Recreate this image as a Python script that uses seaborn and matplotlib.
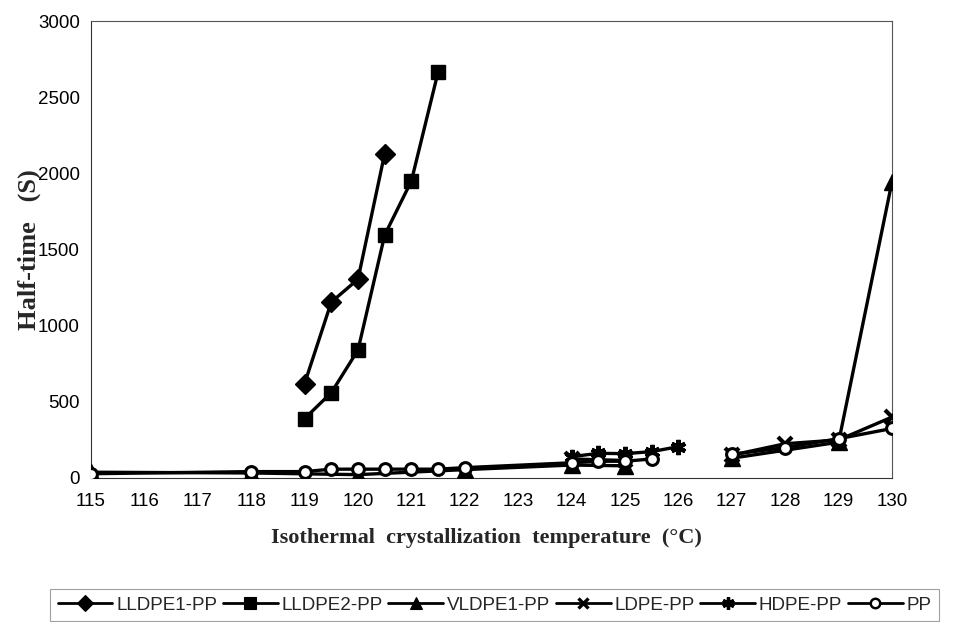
import numpy as np
import pandas as pd
import matplotlib
matplotlib.use("Agg")
import matplotlib.pyplot as plt
from matplotlib.lines import Line2D
import seaborn as sns

# ---- data ----
lldpe1_x = [119, 119.5, 120, 120.5]
lldpe1_y = [620, 1155, 1305, 2130]

lldpe2_x = [119, 119.5, 120, 120.5, 121, 121.5]
lldpe2_y = [390, 560, 840, 1595, 1950, 2665]

vldpe1_x = [115, 118, 120, 122, 124, 125, 126, 127, 129, 130]
vldpe1_y = [38, 33, 22, 55, 85, 80, np.nan, 130, 235, 1945]

ldpe_x = [124, 125, 126, 127, 128, 129, 130]
ldpe_y = [125, 115, np.nan, 150, 225, 250, 400]

hdpe_x = [124, 124.5, 125, 125.5, 126]
hdpe_y = [140, 162, 160, 173, 206]

pp_x = [115, 118, 119, 119.5, 120, 120.5, 121, 121.5, 122, 124, 124.5, 125, 125.5, 126, 127, 128, 129, 130]
pp_y = [28, 42, 42, 58, 58, 58, 58, 58, 68, 100, 110, 110, 125, np.nan, 155, 200, 258, 325]

series_names = ["LLDPE1-PP", "LLDPE2-PP", "VLDPE1-PP", "LDPE-PP", "HDPE-PP", "PP"]
xticks = list(range(115, 131))
yticks = [0, 500, 1000, 1500, 2000, 2500, 3000]

# ---- style ----
sns.set_theme(style="white")
plt.rcParams["font.family"] = ["Liberation Sans", "DejaVu Sans"]

W, H = 972, 622
fig = plt.figure(figsize=(W / 100, H / 100), dpi=100)
L, R, T, B = 91, 892, 21, 478
ax = fig.add_axes([L / W, 1 - B / H, (R - L) / W, (B - T) / H])

styles = {
    "LLDPE1-PP": dict(marker="D", ms=10, mfc="black", mec="black", mew=1),
    "LLDPE2-PP": dict(marker="s", ms=10, mfc="black", mec="black", mew=1),
    "VLDPE1-PP": dict(marker="^", ms=11, mfc="black", mec="black", mew=1),
    "LDPE-PP": dict(marker="x", ms=9.5, mfc="black", mec="black", mew=3),
    "HDPE-PP": dict(marker=(6, 2, 0), ms=11, mfc="black", mec="black", mew=3),
    "PP": dict(marker="o", ms=8.5, mfc="white", mec="black", mew=2.2),
}
data = {
    "LLDPE1-PP": (lldpe1_x, lldpe1_y),
    "LLDPE2-PP": (lldpe2_x, lldpe2_y),
    "VLDPE1-PP": (vldpe1_x, vldpe1_y),
    "LDPE-PP": (ldpe_x, ldpe_y),
    "HDPE-PP": (hdpe_x, hdpe_y),
    "PP": (pp_x, pp_y),
}

for name in series_names:
    xs, ys = data[name]
    df = pd.DataFrame({"x": xs, "y": ys})
    df["seg"] = df["y"].isna().cumsum()
    df = df.dropna()
    st = styles[name]
    sns.lineplot(data=df, x="x", y="y", units="seg", estimator=None, sort=False,
                 color="black", lw=2.4, marker=st["marker"], markersize=st["ms"],
                 markerfacecolor=st["mfc"], markeredgecolor=st["mec"],
                 markeredgewidth=st["mew"], ax=ax, legend=False, zorder=3)

ax.set_xlim(115, 130)
ax.set_ylim(0, 3000)
ax.set_xticks(xticks)
ax.set_yticks(yticks)
ax.tick_params(axis="both", labelsize=13.5, colors="black", length=5, width=0.8)
ax.tick_params(axis="x", direction="inout", pad=8)
ax.tick_params(axis="y", direction="out", pad=3)
for s in ax.spines.values():
    s.set_color("#555555")
    s.set_linewidth(0.8)
ax.spines["left"].set_color("#333333")
ax.spines["bottom"].set_color("#333333")

ax.set_xlabel("Isothermal  crystallization  temperature  (°C)",
              family=["Liberation Serif", "DejaVu Serif"], fontweight="bold", fontsize=16)
ax.set_ylabel("Half-time   (S)",
              family=["Liberation Serif", "DejaVu Serif"], fontweight="bold", fontsize=19)
ax.xaxis.set_label_coords((486 - L) / (R - L), (B - 528) / (B - T))
ax.yaxis.set_label_coords((41 - L) / (R - L), 0.50)

handles = []
for name in series_names:
    st = styles[name]
    handles.append(Line2D([0], [0], color="black", lw=2.0, marker=st["marker"],
                          markersize=st["ms"] * 0.8, markerfacecolor=st["mfc"],
                          markeredgecolor=st["mec"], markeredgewidth=st["mew"] * 0.8))
leg = fig.legend(handles, series_names, loc="upper left",
                 bbox_to_anchor=(50 / W, 1 - 589 / H), ncol=6, fontsize=13.6,
                 handlelength=2.9, handletextpad=0.2, columnspacing=0.3,
                 borderpad=0.4, frameon=True, fancybox=False, borderaxespad=0)
leg.get_frame().set_edgecolor("#888888")
leg.get_frame().set_linewidth(0.8)

fig.savefig("out.png", dpi=100)
